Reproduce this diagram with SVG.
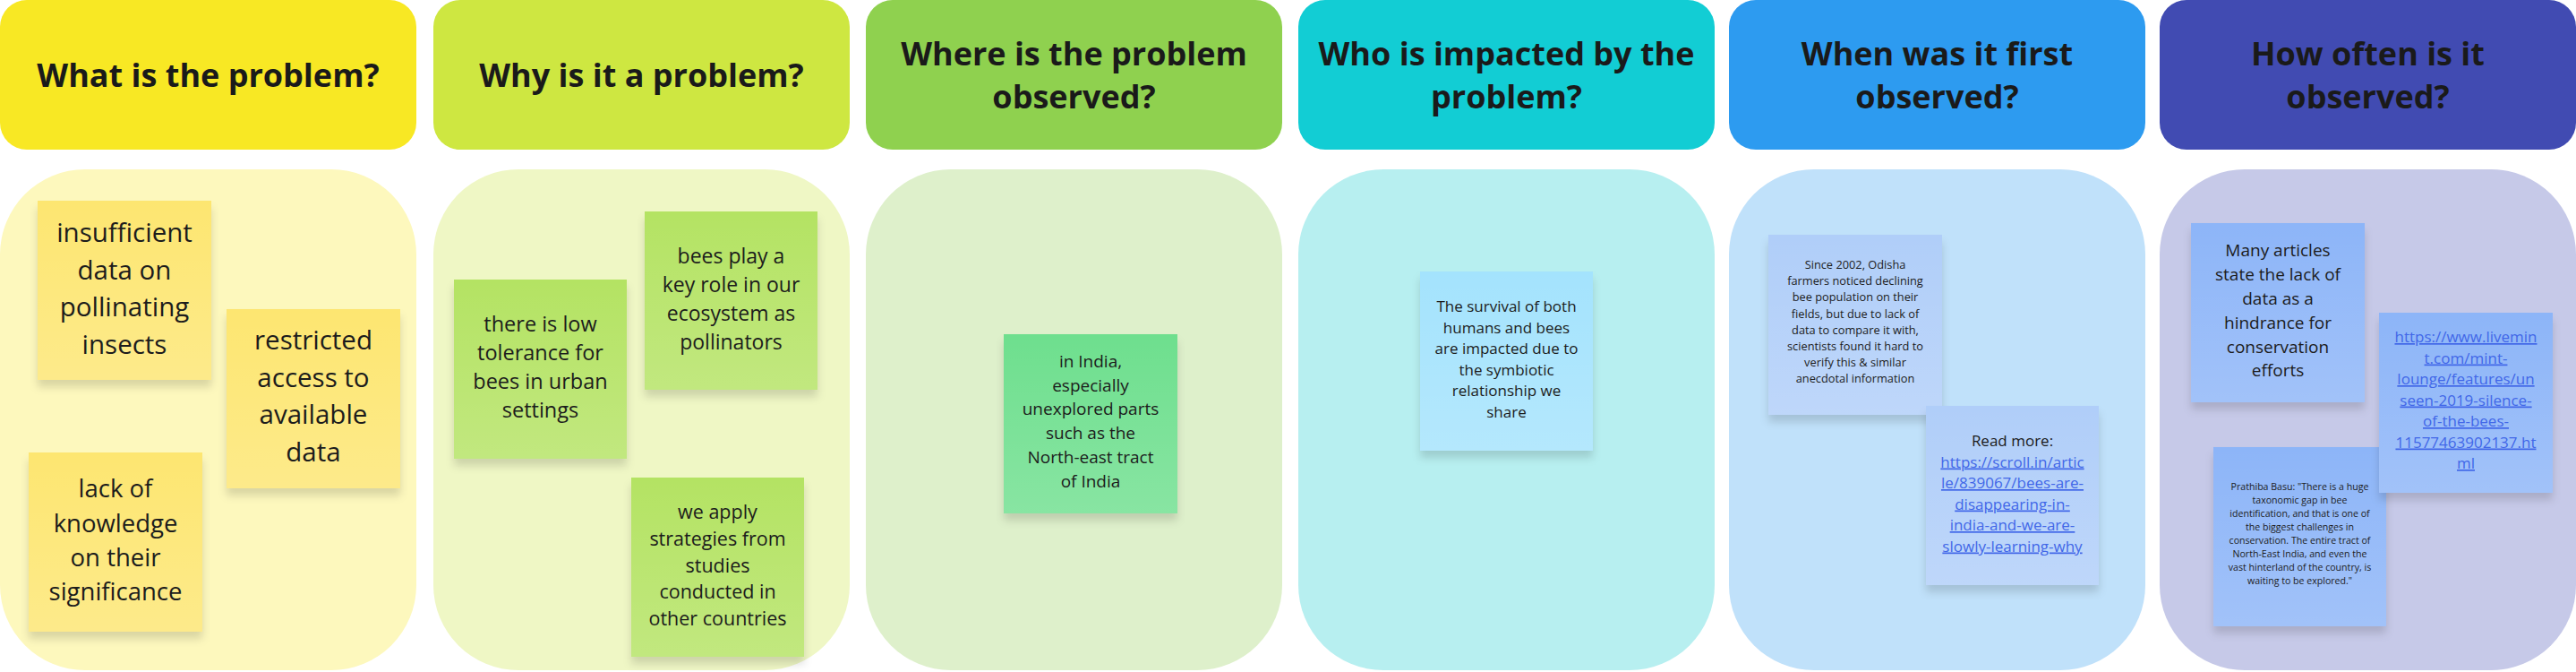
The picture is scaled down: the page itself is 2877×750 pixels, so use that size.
<svg xmlns="http://www.w3.org/2000/svg" width="2877" height="750" viewBox="0 0 2877 750">
<style>
.h{font-family:"Open Sans","Liberation Sans",sans-serif;font-weight:700;font-size:36px;fill:#1a1a1a;text-anchor:middle}
.n{font-family:"Open Sans","Liberation Sans",sans-serif;fill:#1c1c1c;text-anchor:middle}
.lk{fill:#4167E8;text-decoration:underline}
.sh{filter:url(#shadow)}
.sheen{fill:url(#sheen)}
</style>
<defs>
<filter id="shadow" x="-10%" y="-10%" width="120%" height="130%">
<feDropShadow dx="0" dy="8" stdDeviation="5" flood-color="#000" flood-opacity="0.14"/>
</filter>
<linearGradient id="sheen" x1="0" y1="0" x2="0" y2="1">
<stop offset="0" stop-color="#fff" stop-opacity="0"/>
<stop offset="1" stop-color="#fff" stop-opacity="0.18"/>
</linearGradient>
</defs>
<rect width="2877" height="750" fill="#ffffff"/>

<g id="col-what">
<rect x="0" y="0" width="465" height="167" rx="30" fill="#F8E824"/>
<text class="h" x="232.5" y="97">What is the problem?</text>
<rect x="0" y="189" width="465" height="559" rx="95" fill="#FDF8BD"/>
</g>
<g id="col-why">
<rect x="484" y="0" width="465" height="167" rx="30" fill="#CEE741"/>
<text class="h" x="716.5" y="97">Why is it a problem?</text>
<rect x="484" y="189" width="465" height="559" rx="95" fill="#EFF7C5"/>
</g>
<g id="col-where">
<rect x="967" y="0" width="465" height="167" rx="30" fill="#8FD14F"/>
<text class="h" x="1199.5" y="73">Where is the problem</text>
<text class="h" x="1199.5" y="121">observed?</text>
<rect x="967" y="189" width="465" height="559" rx="95" fill="#DEF0CB"/>
</g>
<g id="col-who">
<rect x="1450" y="0" width="465" height="167" rx="30" fill="#12CDD4"/>
<text class="h" x="1682.5" y="73">Who is impacted by the</text>
<text class="h" x="1682.5" y="121">problem?</text>
<rect x="1450" y="189" width="465" height="559" rx="95" fill="#B7EFF0"/>
</g>
<g id="col-when">
<rect x="1931" y="0" width="465" height="167" rx="30" fill="#2D9BF0"/>
<text class="h" x="2163.5" y="73">When was it first</text>
<text class="h" x="2163.5" y="121">observed?</text>
<rect x="1931" y="189" width="465" height="559" rx="95" fill="#C0E1FA"/>
</g>
<g id="col-how">
<rect x="2412" y="0" width="465" height="167" rx="30" fill="#414BB2"/>
<text class="h" x="2644.5" y="73">How often is it</text>
<text class="h" x="2644.5" y="121">observed?</text>
<rect x="2412" y="189" width="465" height="559" rx="95" fill="#C6C9E8"/>
</g>

<g id="note-insufficient">
<rect class="sh" x="42" y="224" width="194" height="200" fill="#FDE671"/>
<rect class="sheen" x="42" y="224" width="194" height="200"/>
<text class="n" font-size="29.5" x="139"><tspan x="139" y="270">insufficient</tspan><tspan x="139" y="311.5">data on</tspan><tspan x="139" y="353">pollinating</tspan><tspan x="139" y="394.5">insects</tspan></text>
</g>
<g id="note-restricted">
<rect class="sh" x="253" y="345" width="194" height="200" fill="#FDE671"/>
<rect class="sheen" x="253" y="345" width="194" height="200"/>
<text class="n" font-size="29.5"><tspan x="350" y="390">restricted</tspan><tspan x="350" y="432">access to</tspan><tspan x="350" y="473">available</tspan><tspan x="350" y="515">data</tspan></text>
</g>
<g id="note-lack">
<rect class="sh" x="32" y="505" width="194" height="200" fill="#FDE671"/>
<rect class="sheen" x="32" y="505" width="194" height="200"/>
<text class="n" font-size="27.5"><tspan x="129" y="554.5">lack of</tspan><tspan x="129" y="593.5">knowledge</tspan><tspan x="129" y="632">on their</tspan><tspan x="129" y="670">significance</tspan></text>
</g>

<g id="note-bees-role">
<rect class="sh" x="720" y="236" width="193" height="199" fill="#B4E364"/>
<rect class="sheen" x="720" y="236" width="193" height="199"/>
<text class="n" font-size="23"><tspan x="816.5" y="294">bees play a</tspan><tspan x="816.5" y="326">key role in our</tspan><tspan x="816.5" y="358">ecosystem as</tspan><tspan x="816.5" y="390">pollinators</tspan></text>
</g>
<g id="note-tolerance">
<rect class="sh" x="507" y="312" width="193" height="200" fill="#B4E364"/>
<rect class="sheen" x="507" y="312" width="193" height="200"/>
<text class="n" font-size="23.5"><tspan x="603.5" y="370">there is low</tspan><tspan x="603.5" y="402">tolerance for</tspan><tspan x="603.5" y="434">bees in urban</tspan><tspan x="603.5" y="466">settings</tspan></text>
</g>
<g id="note-strategies">
<rect class="sh" x="705" y="533" width="193" height="200" fill="#B4E364"/>
<rect class="sheen" x="705" y="533" width="193" height="200"/>
<text class="n" font-size="21.5"><tspan x="801.5" y="579">we apply</tspan><tspan x="801.5" y="609">strategies from</tspan><tspan x="801.5" y="639">studies</tspan><tspan x="801.5" y="668">conducted in</tspan><tspan x="801.5" y="698">other countries</tspan></text>
</g>

<g id="note-india">
<rect class="sh" x="1121" y="373" width="194" height="200" fill="#6EDF8E"/>
<rect class="sheen" x="1121" y="373" width="194" height="200"/>
<text class="n" font-size="19"><tspan x="1218" y="410">in India,</tspan><tspan x="1218" y="436.7">especially</tspan><tspan x="1218" y="463.4">unexplored parts</tspan><tspan x="1218" y="490">such as the</tspan><tspan x="1218" y="517">North-east tract</tspan><tspan x="1218" y="543.6">of India</tspan></text>
</g>

<g id="note-survival">
<rect class="sh" x="1586" y="303" width="193" height="200" fill="#A4E3FD"/>
<rect class="sheen" x="1586" y="303" width="193" height="200"/>
<text class="n" font-size="17"><tspan x="1682.5" y="348">The survival of both</tspan><tspan x="1682.5" y="371.5">humans and bees</tspan><tspan x="1682.5" y="395">are impacted due to</tspan><tspan x="1682.5" y="418.5">the symbiotic</tspan><tspan x="1682.5" y="442">relationship we</tspan><tspan x="1682.5" y="465.5">share</tspan></text>
</g>

<g id="note-odisha">
<rect class="sh" x="1975" y="262" width="194" height="201" fill="#B0CEF9"/>
<rect class="sheen" x="1975" y="262" width="194" height="201"/>
<text class="n" font-size="12.8"><tspan x="2072" y="300">Since 2002, Odisha</tspan><tspan x="2072" y="318.2">farmers noticed declining</tspan><tspan x="2072" y="336.4">bee population on their</tspan><tspan x="2072" y="354.6">fields, but due to lack of</tspan><tspan x="2072" y="372.8">data to compare it with,</tspan><tspan x="2072" y="391">scientists found it hard to</tspan><tspan x="2072" y="409.2">verify this &amp; similar</tspan><tspan x="2072" y="427.4">anecdotal information</tspan></text>
</g>
<g id="note-readmore">
<rect class="sh" x="2151" y="453" width="193" height="200" fill="#B0CEF9"/>
<rect class="sheen" x="2151" y="453" width="193" height="200"/>
<text class="n" font-size="17"><tspan x="2247.5" y="498">Read more:</tspan><tspan class="lk" x="2247.5" y="521.5">https://scroll.in/artic</tspan><tspan class="lk" x="2247.5" y="545">le/839067/bees-are-</tspan><tspan class="lk" x="2247.5" y="568.5">disappearing-in-</tspan><tspan class="lk" x="2247.5" y="592">india-and-we-are-</tspan><tspan class="lk" x="2247.5" y="615.5">slowly-learning-why</tspan></text>
</g>

<g id="note-articles">
<rect class="sh" x="2447" y="249" width="194" height="200" fill="#8DB5F8"/>
<rect class="sheen" x="2447" y="249" width="194" height="200"/>
<text class="n" font-size="19"><tspan x="2544" y="286">Many articles</tspan><tspan x="2544" y="313">state the lack of</tspan><tspan x="2544" y="340">data as a</tspan><tspan x="2544" y="366.5">hindrance for</tspan><tspan x="2544" y="393.5">conservation</tspan><tspan x="2544" y="420">efforts</tspan></text>
</g>
<g id="note-prathiba">
<rect class="sh" x="2472" y="499" width="193" height="200" fill="#8DB5F8"/>
<rect class="sheen" x="2472" y="499" width="193" height="200"/>
<text class="n" font-size="10.6"><tspan x="2568.5" y="547.3">Prathiba Basu: "There is a huge</tspan><tspan x="2568.5" y="562.2">taxonomic gap in bee</tspan><tspan x="2568.5" y="577.1">identification, and that is one of</tspan><tspan x="2568.5" y="592">the biggest challenges in</tspan><tspan x="2568.5" y="606.9">conservation. The entire tract of</tspan><tspan x="2568.5" y="621.8">North-East India, and even the</tspan><tspan x="2568.5" y="636.7">vast hinterland of the country, is</tspan><tspan x="2568.5" y="651.6">waiting to be explored."</tspan></text>
</g>
<g id="note-livemint">
<rect class="sh" x="2657" y="349" width="194" height="201" fill="#8DB5F8"/>
<rect class="sheen" x="2657" y="349" width="194" height="201"/>
<text class="n lk" font-size="17"><tspan x="2754" y="382">https://www.livemin</tspan><tspan x="2754" y="405.5">t.com/mint-</tspan><tspan x="2754" y="429">lounge/features/un</tspan><tspan x="2754" y="452.5">seen-2019-silence-</tspan><tspan x="2754" y="476">of-the-bees-</tspan><tspan x="2754" y="499.5">11577463902137.ht</tspan><tspan x="2754" y="523">ml</tspan></text>
</g>
<g id="connectors"></g>
</svg>
